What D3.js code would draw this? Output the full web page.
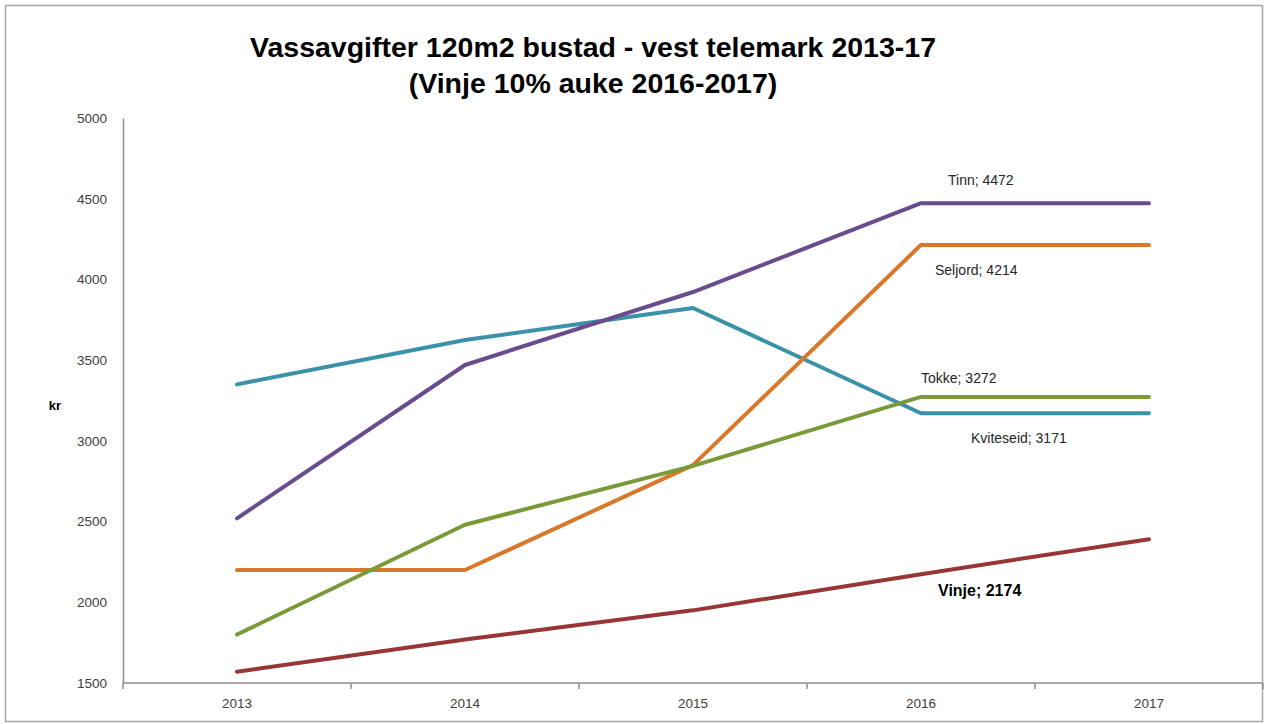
<!DOCTYPE html>
<html>
<head>
<meta charset="utf-8">
<script src="https://cdn.jsdelivr.net/npm/d3@7"></script>
<style>
  body { margin: 0; background: #fff; }
  text { font-family: "Liberation Sans", Arial, sans-serif; }
</style>
</head>
<body>
<div id="main"></div>
<script>

var width = 1266,
    height = 724;

// data
var years = ["2013", "2014", "2015", "2016", "2017"];
var tinn      = [2520, 3470, 3922, 4472, 4472];
var kviteseid = [3350, 3625, 3823, 3171, 3171];
var seljord   = [2200, 2200, 2850, 4214, 4214];
var tokke     = [1800, 2480, 2845, 3272, 3272];
var vinje     = [1570, 1770, 1950, 2174, 2391];
var yTicks    = [1500, 2000, 2500, 3000, 3500, 4000, 4500, 5000];

var series = [
    { name: "Kviteseid", values: kviteseid, color: "#3b91a7" },
    { name: "Tinn",      values: tinn,      color: "#684c8e" },
    { name: "Seljord",   values: seljord,   color: "#d9772b" },
    { name: "Tokke",     values: tokke,     color: "#7a9a3a" },
    { name: "Vinje",     values: vinje,     color: "#983535" }
];

// label for the 2016 point, placed like the original
var labels = [
    { name: "Tinn",      dx: 27,  dy: -18, bold: false },
    { name: "Seljord",   dx: 14,  dy: 30,  bold: false },
    { name: "Tokke",     dx: 0,   dy: -14, bold: false },
    { name: "Kviteseid", dx: 50,  dy: 30,  bold: false },
    { name: "Vinje",     dx: 17,  dy: 22,  bold: true }
];

var svg = d3.select("#main").append("svg")
    .attr("width", width)
    .attr("height", height);

// outer frame
svg.append("rect")
    .attr("x", 5.5).attr("y", 5.5)
    .attr("width", width - 9).attr("height", height - 8)
    .attr("fill", "#fff")
    .attr("stroke", "#a6a6a6")
    .attr("stroke-width", 1.5);

var x = d3.scaleBand()
    .domain(years)
    .range([123, 1263]);

var y = d3.scaleLinear()
    .domain([1500, 5000])
    .range([683, 118]);

// title
var title = svg.append("text")
    .attr("x", 593)
    .attr("text-anchor", "middle")
    .attr("font-weight", "bold")
    .attr("font-size", 28.5)
    .attr("fill", "#000");
title.append("tspan").attr("x", 593).attr("y", 57)
    .text("Vassavgifter 120m2 bustad - vest telemark 2013-17");
title.append("tspan").attr("x", 593).attr("y", 93)
    .text("(Vinje 10% auke 2016-2017)");

// y axis
var yAxis = svg.append("g")
    .attr("transform", "translate(123,0)")
    .call(d3.axisLeft(y).tickValues(yTicks).tickFormat(d3.format("d")).tickSize(0).tickPadding(16));
yAxis.select(".domain").attr("stroke", "#8c8c8c").attr("stroke-width", 1.5);
yAxis.selectAll("text")
    .attr("font-size", 13.5)
    .attr("fill", "#404040")
    .style("font-family", "'Liberation Sans', sans-serif");

svg.append("text")
    .attr("x", 55).attr("y", 410)
    .attr("text-anchor", "middle")
    .attr("font-weight", "bold")
    .attr("font-size", 13)
    .text("kr");

// x axis with ticks between categories
var xAxisG = svg.append("g")
    .attr("transform", "translate(0,683)");
xAxisG.append("line")
    .attr("x1", 123).attr("x2", 1263)
    .attr("stroke", "#8c8c8c").attr("stroke-width", 1.5);
xAxisG.selectAll(".tk")
    .data(years.concat(["end"]))
    .enter().append("line")
    .attr("class", "tk")
    .attr("x1", function(d, i) { return 123 + i * x.step(); })
    .attr("x2", function(d, i) { return 123 + i * x.step(); })
    .attr("y1", 0).attr("y2", 6)
    .attr("stroke", "#8c8c8c").attr("stroke-width", 1.5);
xAxisG.selectAll(".lbl")
    .data(years)
    .enter().append("text")
    .attr("class", "lbl")
    .attr("x", function(d) { return x(d) + x.bandwidth() / 2; })
    .attr("y", 25)
    .attr("text-anchor", "middle")
    .attr("font-size", 13.5)
    .attr("fill", "#404040")
    .text(function(d) { return d; });

var line = d3.line()
    .x(function(d, i) { return x(years[i]) + x.bandwidth() / 2; })
    .y(function(d) { return y(d); });

svg.selectAll(".series")
    .data(series)
    .enter().append("path")
    .attr("class", "series")
    .attr("d", function(d) { return line(d.values); })
    .attr("fill", "none")
    .attr("stroke", function(d) { return d.color; })
    .attr("stroke-width", 4)
    .attr("stroke-linejoin", "round")
    .attr("stroke-linecap", "round");

// data labels at 2016
labels.forEach(function(l) {
    var s = series.find(function(d) { return d.name === l.name; });
    var v = s.values[3];
    svg.append("text")
        .attr("x", x("2016") + x.bandwidth() / 2 + l.dx)
        .attr("y", y(v) + l.dy)
        .attr("font-size", l.bold ? 16 : 14)
        .attr("font-weight", l.bold ? "bold" : "normal")
        .attr("fill", l.bold ? "#000" : "#262626")
        .text(l.name + "; " + v);
});

</script>
</body>
</html>
